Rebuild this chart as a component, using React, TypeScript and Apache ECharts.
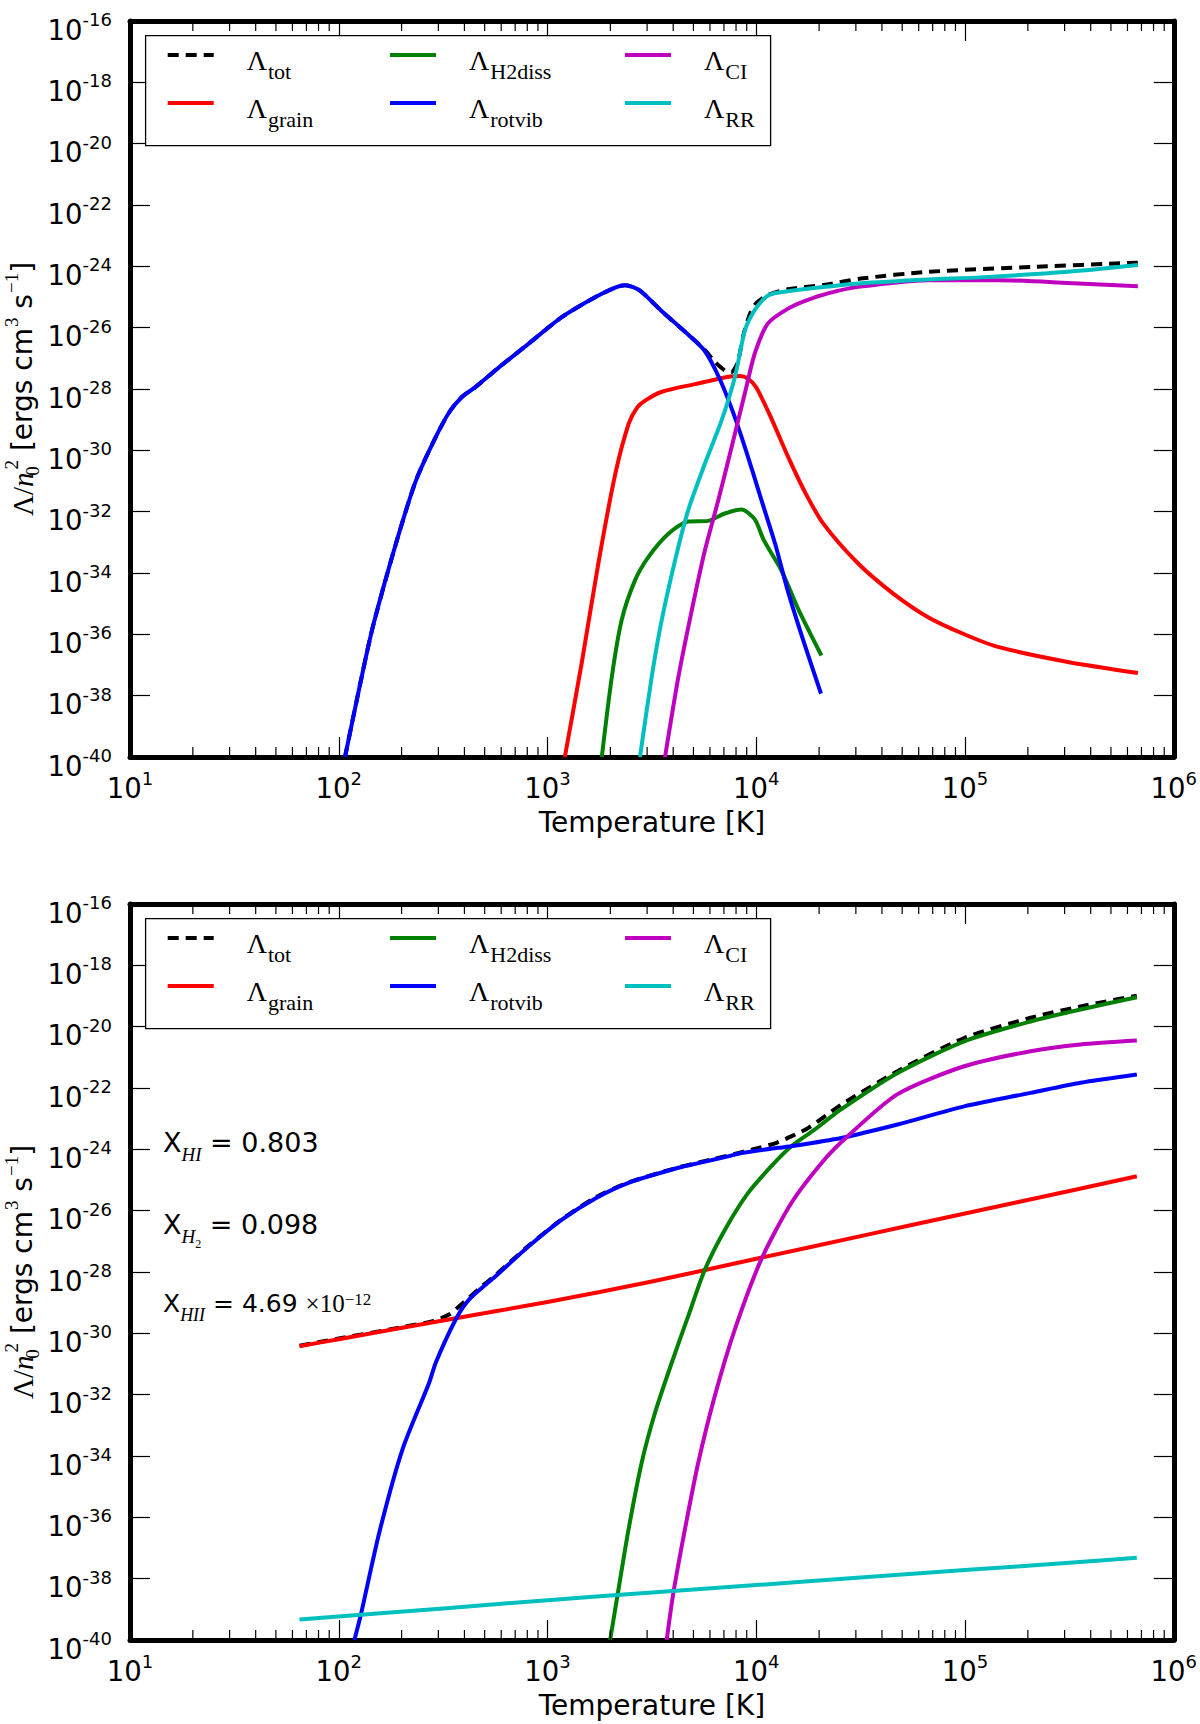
import React, { useEffect, useRef } from "react";
import * as echarts from "echarts";

// ---------- axis ticks ----------
const X_TICK_EXPONENTS = [1, 2, 3, 4, 5, 6];
const Y_TICK_EXPONENTS = [-40, -38, -36, -34, -32, -30, -28, -26, -24, -22, -20, -18, -16];
const MINOR_MULTIPLIERS = [2, 3, 4, 5, 6, 7, 8, 9];

// ---------- legend ----------
const SERIES_KEYS = ["tot", "grain", "H2diss", "rotvib", "CI", "RR"];
const SERIES_COLORS = ["#000000", "#ff0000", "#008000", "#0000ff", "#bf00bf", "#00bfbf"];

// ---------- top panel (log10 T, log10 Lambda) ----------
const TOP_TOT_T = [2.03, 2.1, 2.163, 2.274, 2.37, 2.465, 2.53, 2.59, 2.656, 2.77, 2.91, 3.07, 3.23, 3.33, 3.37, 3.41, 3.45, 3.55, 3.66, 3.75, 3.8, 3.85, 3.88, 3.91, 3.94, 3.97, 4.0, 4.054, 4.15, 4.321, 4.5, 4.823, 5.326, 5.828];
const TOP_TOT = [-40, -37.7, -35.76, -33.04, -30.98, -29.56, -28.75, -28.26, -27.93, -27.28, -26.52, -25.65, -25.0, -24.68, -24.62, -24.68, -24.83, -25.48, -26.14, -26.7, -27.1, -27.4, -27.45, -27.15, -26.2, -25.55, -25.2, -24.94, -24.75, -24.61, -24.4, -24.18, -24.02, -23.88];

const TOP_GRAIN_T = [3.083, 3.166, 3.246, 3.325, 3.389, 3.43, 3.469, 3.548, 3.707, 3.867, 3.92, 3.96, 4.0, 4.069, 4.153, 4.237, 4.321, 4.488, 4.656, 4.823, 4.991, 5.158, 5.493, 5.828];
const TOP_GRAIN = [-40, -36.85, -33.59, -30.76, -29.13, -28.6, -28.37, -28.09, -27.84, -27.6, -27.58, -27.66, -27.95, -28.91, -30.22, -31.41, -32.39, -33.69, -34.67, -35.44, -35.98, -36.41, -36.9, -37.26];

const TOP_H2DISS_T = [3.26, 3.308, 3.355, 3.419, 3.483, 3.579, 3.674, 3.77, 3.849, 3.929, 3.993, 4.036, 4.12, 4.204, 4.312];
const TOP_H2DISS = [-40, -37.39, -35.54, -34.24, -33.48, -32.72, -32.32, -32.3, -32.06, -31.93, -32.25, -32.93, -33.91, -35.22, -36.69];

const TOP_ROTVIB_T = [2.03, 2.1, 2.163, 2.274, 2.37, 2.465, 2.53, 2.59, 2.656, 2.77, 2.91, 3.07, 3.23, 3.33, 3.37, 3.41, 3.45, 3.55, 3.66, 3.75, 3.82, 3.885, 3.95, 4.02, 4.09, 4.15, 4.22, 4.31];
const TOP_ROTVIB = [-40, -37.7, -35.76, -33.04, -30.98, -29.56, -28.75, -28.26, -27.93, -27.28, -26.52, -25.65, -25.0, -24.68, -24.62, -24.68, -24.83, -25.48, -26.14, -26.73, -27.6, -28.69, -29.99, -31.52, -33.04, -34.56, -36.09, -37.93];

const TOP_CI_T = [3.563, 3.627, 3.691, 3.754, 3.818, 3.882, 3.945, 3.993, 4.056, 4.152, 4.237, 4.343, 4.488, 4.823, 5.158, 5.493, 5.828];
const TOP_CI = [-40, -37.39, -35.22, -33.26, -31.63, -29.89, -28.15, -26.84, -25.86, -25.38, -25.12, -24.88, -24.67, -24.45, -24.45, -24.54, -24.65];

const TOP_RR_T = [3.443, 3.499, 3.547, 3.611, 3.674, 3.754, 3.834, 3.898, 3.945, 3.986, 4.03, 4.073, 4.184, 4.343, 4.488, 4.823, 5.074, 5.493, 5.828];
const TOP_RR = [-40, -37.39, -35.54, -33.59, -31.95, -30.43, -29.02, -27.6, -26.1, -25.5, -25.1, -24.9, -24.78, -24.66, -24.56, -24.43, -24.36, -24.18, -23.96];

// ---------- bottom panel ----------
const BOT_TOT_T = [1.812, 2.0, 2.3, 2.45, 2.53, 2.6, 2.68, 2.751, 2.91, 3.069, 3.229, 3.388, 3.627, 3.8, 3.93, 4.02, 4.1, 4.17, 4.25, 4.406, 4.677, 4.996, 5.314, 5.553, 5.823];
const BOT_TOT = [-30.4, -30.17, -29.8, -29.6, -29.38, -28.98, -28.5, -28.1, -27.14, -26.28, -25.57, -25.08, -24.59, -24.31, -24.09, -23.94, -23.78, -23.57, -23.3, -22.55, -21.45, -20.37, -19.71, -19.34, -18.99];

const BOT_GRAIN_T = [1.812, 2.0, 2.5, 3.0, 3.5, 4.0, 4.5, 5.0, 5.5, 5.823];
const BOT_GRAIN = [-30.42, -30.19, -29.58, -28.98, -28.31, -27.57, -26.83, -26.09, -25.36, -24.88];

const BOT_H2DISS_T = [3.3, 3.34, 3.388, 3.451, 3.515, 3.595, 3.674, 3.754, 3.85, 3.961, 4.072, 4.168, 4.279, 4.406, 4.677, 4.996, 5.314, 5.553, 5.823];
const BOT_H2DISS = [-40, -38.35, -36.4, -34.22, -32.59, -30.96, -29.44, -27.92, -26.62, -25.42, -24.55, -23.9, -23.36, -22.7, -21.51, -20.48, -19.83, -19.44, -19.04];

const BOT_ROTVIB_T = [2.075, 2.106, 2.194, 2.305, 2.433, 2.465, 2.56, 2.624, 2.751, 2.91, 3.069, 3.229, 3.388, 3.627, 3.722, 3.865, 3.929, 4.104, 4.168, 4.406, 4.677, 4.996, 5.314, 5.553, 5.823];
const BOT_ROTVIB = [-40, -39.17, -36.5, -33.79, -31.61, -30.95, -29.55, -28.9, -28.14, -27.16, -26.29, -25.6, -25.09, -24.6, -24.45, -24.23, -24.12, -23.95, -23.9, -23.63, -23.19, -22.6, -22.16, -21.83, -21.56];

const BOT_CI_T = [3.571, 3.603, 3.658, 3.722, 3.801, 3.897, 4.024, 4.168, 4.327, 4.438, 4.677, 4.996, 5.314, 5.553, 5.823];
const BOT_CI = [-40, -38.46, -36.4, -34.22, -32.05, -29.88, -27.59, -25.75, -24.33, -23.57, -22.2, -21.29, -20.8, -20.58, -20.45];

const BOT_RR_T = [1.812, 2.5, 3.0, 3.5, 4.0, 4.5, 5.0, 5.5, 5.823];
const BOT_RR = [-39.33, -38.97, -38.7, -38.45, -38.21, -37.96, -37.72, -37.48, -37.32];

// ---------- annotations ----------
const X_HI = "0.803";
const X_H2 = "0.098";
const X_HII_MANTISSA = "4.69";
const X_HII_EXP = "−12";

const Y_MIN = -40;
const Y_MAX = -16;
const X_MIN = 1;
const X_MAX = 6;

const GRID_LEFT = 130;
const GRID_WIDTH = 1047;
const GRID_TOPS = [21, 904];
const GRID_HEIGHT = 736;

const SANS = "DejaVu Sans";
const SERIF = "Liberation Serif";

function pairs(t: number[], v: number[]) {
  return t.map((x, i) => [x, v[i]]);
}

export default function App() {
  const ref = useRef<HTMLDivElement>(null);

  useEffect(() => {
    document.body.style.margin = "0";
    if (!ref.current) return;
    const chart = echarts.init(ref.current, undefined, { renderer: "svg" });

    const panels = [
      [pairs(TOP_TOT_T, TOP_TOT), pairs(TOP_GRAIN_T, TOP_GRAIN), pairs(TOP_H2DISS_T, TOP_H2DISS), pairs(TOP_ROTVIB_T, TOP_ROTVIB), pairs(TOP_CI_T, TOP_CI), pairs(TOP_RR_T, TOP_RR)],
      [pairs(BOT_TOT_T, BOT_TOT), pairs(BOT_GRAIN_T, BOT_GRAIN), pairs(BOT_H2DISS_T, BOT_H2DISS), pairs(BOT_ROTVIB_T, BOT_ROTVIB), pairs(BOT_CI_T, BOT_CI), pairs(BOT_RR_T, BOT_RR)],
    ];

    const minorTicks: number[] = [];
    for (let e = X_MIN; e < X_MAX; e++) {
      MINOR_MULTIPLIERS.forEach((m) => minorTicks.push(e + Math.log10(m)));
    }

    const tickLabelRich = {
      b: { fontFamily: SANS, fontSize: 27.5, lineHeight: 31, verticalAlign: "top", padding: [5, 0, 0, 0], color: "#000" },
      s: { fontFamily: SANS, fontSize: 18, lineHeight: 18, verticalAlign: "top", color: "#000" },
    };

    const grids: any[] = [];
    const xAxes: any[] = [];
    const yAxes: any[] = [];
    const series: any[] = [];
    const legends: any[] = [];
    const graphics: any[] = [];

    GRID_TOPS.forEach((top, g) => {
      grids.push({ left: GRID_LEFT, top, width: GRID_WIDTH, height: GRID_HEIGHT, containLabel: false });
      const axisLine = { show: true, onZero: false, lineStyle: { color: "#000", width: 5 } };
      const tick = { show: true, inside: true, length: 20, lineStyle: { color: "#000", width: 1.2 } };
      xAxes.push({
        type: "value", gridIndex: g, position: "bottom", min: X_MIN, max: X_MAX, interval: 1,
        axisLine, axisTick: tick, splitLine: { show: false },
        axisLabel: {
          show: true, margin: 12, formatter: (v: number) => (X_TICK_EXPONENTS.includes(v) ? `{b|10}{s|${v}}` : ""),
          rich: tickLabelRich, showMinLabel: true, showMaxLabel: true,
        },
        name: "Temperature [K]", nameLocation: "middle", nameGap: 65,
        nameTextStyle: { fontFamily: SANS, fontSize: 28, color: "#000", verticalAlign: "middle" },
      });
      xAxes.push({
        type: "value", gridIndex: g, position: "top", min: X_MIN, max: X_MAX, interval: 1,
        axisLine, axisTick: tick, splitLine: { show: false }, axisLabel: { show: false },
      });
      yAxes.push({
        type: "value", gridIndex: g, position: "left", min: Y_MIN, max: Y_MAX, interval: 2,
        axisLine, axisTick: tick, splitLine: { show: false },
        axisLabel: {
          show: true, margin: 18, padding: [10, 0, 0, 0],
          formatter: (v: number) => (Y_TICK_EXPONENTS.includes(v) ? `{b|10}{s|${v}}` : ""),
          rich: tickLabelRich, showMinLabel: true, showMaxLabel: true,
        },
      });
      yAxes.push({
        type: "value", gridIndex: g, position: "right", min: Y_MIN, max: Y_MAX, interval: 2,
        axisLine, axisTick: tick, splitLine: { show: false }, axisLabel: { show: false },
      });

      const xi = g * 2;
      const yi = g * 2;
      SERIES_KEYS.forEach((key, k) => {
        series.push({
          type: "line",
          name: "Λ" + key,
          xAxisIndex: xi,
          yAxisIndex: yi,
          data: panels[g][k],
          symbol: "none",
          showSymbol: false,
          smooth: 0.25,
          clip: true,
          silent: true,
          z: k === 0 ? 2 : 3,
          itemStyle: { color: SERIES_COLORS[k] },
          lineStyle: { color: SERIES_COLORS[k], width: 4, type: k === 0 ? [11, 7] : "solid", cap: "butt", join: "round" },
          emphasis: { disabled: true },
        });
      });

      series.push({
        type: "custom",
        name: "minor-ticks-" + g,
        xAxisIndex: xi,
        yAxisIndex: yi,
        silent: true,
        z: 4,
        data: minorTicks.map((v) => [v, Y_MIN]),
        renderItem: (_params: any, api: any) => {
          const v = api.value(0);
          const b = api.coord([v, Y_MIN]);
          const t = api.coord([v, Y_MAX]);
          return {
            type: "group",
            children: [
              { type: "line", shape: { x1: b[0], y1: b[1], x2: b[0], y2: b[1] - 10 }, style: { stroke: "#000", lineWidth: 1.2 } },
              { type: "line", shape: { x1: t[0], y1: t[1], x2: t[0], y2: t[1] + 10 }, style: { stroke: "#000", lineWidth: 1.2 } },
            ],
          };
        },
      });

      // legend frame
      const dy = top - GRID_TOPS[0];
      graphics.push({
        type: "rect", z: 20,
        shape: { x: 145.6, y: 35.7 + dy, width: 625, height: 110 },
        style: { fill: "#fff", stroke: "#000", lineWidth: 1.3 },
      });
      const colLeft = [165.7, 388, 623];
      const rowCenter = [61, 109];
      // matplotlib ncol=3 fills columns first
      SERIES_KEYS.forEach((key, k) => {
        const col = Math.floor(k / 2);
        const row = k % 2;
        legends.push({
          show: true,
          z: 30,
          data: ["Λ" + key],
          left: colLeft[col],
          top: rowCenter[row] + dy - 21,
          padding: 0,
          itemWidth: 46,
          itemHeight: 14,
          itemGap: 0,
          selectedMode: false,
          itemStyle: { opacity: 0, borderWidth: 0 },
          lineStyle: { width: 4 },
          formatter: (name: string) => `{L|Λ}{s|${name.slice(1)}}`,
          textStyle: {
            rich: {
              L: { fontFamily: SERIF, fontSize: 28, lineHeight: 30, verticalAlign: "top", padding: [6, 0, 0, 28], color: "#000" },
              s: { fontFamily: SERIF, fontSize: 22, lineHeight: 22, verticalAlign: "top", padding: [20, 0, 0, 1], color: "#000" },
            },
          },
        });
      });

      // y axis title
      graphics.push({
        type: "text",
        x: 18,
        y: top + GRID_HEIGHT / 2,
        rotation: Math.PI / 2,
        z: 20,
        style: {
          text: "{m|Λ/}{mi|n}{sb|0}{sp|2}{t| [ergs cm}{sp|3}{t| s}{sp|−1}{t|]}",
          align: "center",
          verticalAlign: "middle",
          rich: {
            m: { fontFamily: SERIF, fontSize: 29, lineHeight: 32, verticalAlign: "top", padding: [6, 0, 0, 0], fill: "#000" },
            mi: { fontFamily: SERIF, fontStyle: "italic", fontSize: 29, lineHeight: 32, verticalAlign: "top", padding: [6, 0, 0, 0], fill: "#000" },
            sb: { fontFamily: SERIF, fontSize: 19, lineHeight: 19, verticalAlign: "top", padding: [21, 0, 0, 1], width: 1, fill: "#000" },
            sp: { fontFamily: SERIF, fontSize: 19, lineHeight: 19, verticalAlign: "top", padding: [0, 0, 0, 1], fill: "#000" },
            t: { fontFamily: SANS, fontSize: 28, lineHeight: 32, verticalAlign: "top", padding: [6, 0, 0, 0], fill: "#000" },
          },
        },
      });
    });

    // abundance annotations (bottom panel)
    const annRich = {
      x: { fontFamily: SANS, fontSize: 27, lineHeight: 30, verticalAlign: "top", fill: "#000" },
      sub: { fontFamily: SERIF, fontStyle: "italic", fontSize: 19, lineHeight: 19, verticalAlign: "top", padding: [16, 0, 0, 0], fill: "#000" },
      sub2: { fontFamily: SERIF, fontSize: 12, lineHeight: 12, verticalAlign: "top", padding: [27, 0, 0, 0], fill: "#000" },
      x3: { fontFamily: SANS, fontSize: 25, lineHeight: 30, verticalAlign: "top", fill: "#000" },
      sub3: { fontFamily: SERIF, fontStyle: "italic", fontSize: 18, lineHeight: 18, verticalAlign: "top", padding: [15, 0, 0, 0], fill: "#000" },
      ser: { fontFamily: SERIF, fontSize: 25, lineHeight: 30, verticalAlign: "top", fill: "#000" },
      sup: { fontFamily: SERIF, fontSize: 17, lineHeight: 17, verticalAlign: "top", fill: "#000" },
    };
    graphics.push({
      type: "text", x: 163, y: 1129, z: 20,
      style: { text: `{x|X}{sub|HI}{x| = ${X_HI}}`, align: "left", verticalAlign: "top", rich: annRich },
    });
    graphics.push({
      type: "text", x: 163, y: 1211, z: 20,
      style: { text: `{x|X}{sub|H}{sub2|2}{x| = ${X_H2}}`, align: "left", verticalAlign: "top", rich: annRich },
    });
    graphics.push({
      type: "text", x: 163, y: 1291, z: 20,
      style: { text: `{x3|X}{sub3|HII}{x3| = ${X_HII_MANTISSA} }{ser|×10}{sup|${X_HII_EXP}}`, align: "left", verticalAlign: "top", rich: annRich },
    });

    chart.setOption({
      animation: false,
      backgroundColor: "#fff",
      grid: grids,
      xAxis: xAxes,
      yAxis: yAxes,
      legend: legends,
      series,
      graphic: { elements: graphics },
    });

    return () => chart.dispose();
  }, []);

  return <div ref={ref} style={{ position: "absolute", left: 0, top: 0, width: 1200, height: 1724 }} />;
}
